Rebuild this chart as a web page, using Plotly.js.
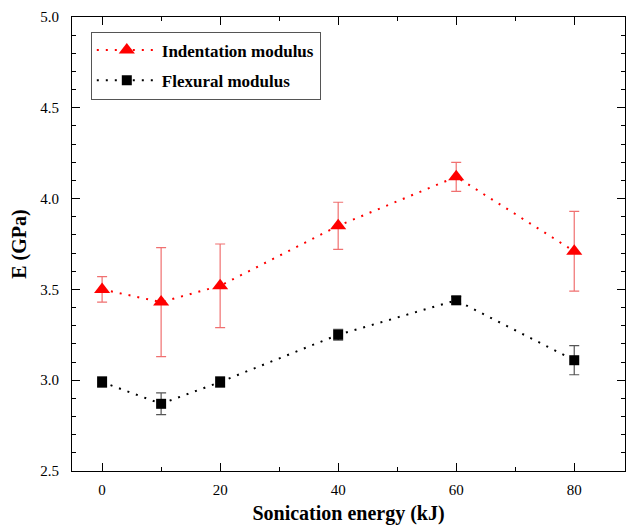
<!DOCTYPE html>
<html><head><meta charset="utf-8">
<script src="https://cdn.plot.ly/plotly-3.0.1.min.js"></script>
<style>html,body{margin:0;padding:0;background:#fff}</style>
</head><body>
<div id="chart" style="width:630px;height:525px"></div>
<script>
const energy = [0, 10, 20, 40, 60, 80];
const indentation = [3.50, 3.43, 3.52, 3.85, 4.12, 3.71];
const indentationErr = [0.07, 0.30, 0.23, 0.13, 0.08, 0.22];
const flexural = [2.99, 2.87, 2.99, 3.25, 3.44, 3.11];
const flexuralErr = [0.03, 0.06, 0.03, 0.03, 0.02, 0.08];
const seriesNames = ['Indentation modulus', 'Flexural modulus'];

const FAM = 'Liberation Serif, Times New Roman, serif';
const traces = [
  {x: energy, y: indentation, name: '<b>' + seriesNames[0] + '</b>', type: 'scatter', mode: 'lines+markers',
   legendgroup: 'a',
   line: {color: '#ff0000', dash: '2px,7px', width: 2},
   marker: {symbol: 'triangle-up', size: 14, color: '#ff0000'},
   error_y: {type: 'data', array: indentationErr, visible: true, color: '#f07070', thickness: 1.2, width: 5}},
  {x: energy, y: flexural, name: '<b>' + seriesNames[1] + '</b>', type: 'scatter', mode: 'lines+markers',
   legendgroup: 'b',
   line: {color: '#000000', dash: '2px,7px', width: 2},
   marker: {symbol: 'square', size: 10, color: '#000000'},
   error_y: {type: 'data', array: flexuralErr, visible: true, color: '#555555', thickness: 1.2, width: 5}}
];

const layout = {
  width: 630, height: 525,
  margin: {l: 72, r: 5, t: 17, b: 54},
  paper_bgcolor: '#fff', plot_bgcolor: '#fff',
  font: {family: FAM, color: '#000'},
  showlegend: true,
  legend: {x: 0.034, y: 0.968, xanchor: 'left', yanchor: 'top', bordercolor: '#555', borderwidth: 1,
    font: {family: FAM, size: 17, color: '#000'}, bgcolor: '#fff', tracegroupgap: 5,
    traceorder: 'grouped', itemwidth: 60},
  xaxis: {range: [-5.1, 88.6], tickvals: [0, 20, 40, 60, 80], ticks: 'inside', ticklen: 8, tickcolor: '#000',
    showline: true, linecolor: '#000', linewidth: 1, mirror: 'ticks', showgrid: false, zeroline: false,
    minor: {tickvals: [10, 30, 50, 70], ticks: 'inside', ticklen: 4, tickcolor: '#000'},
    tickfont: {family: FAM, size: 15}, ticklabelstandoff: 5,
    title: {text: '<b>Sonication energy (kJ)</b>', font: {family: FAM, size: 20}, standoff: 12}},
  yaxis: {range: [2.5, 5.0], dtick: 0.5, tickformat: '.1f', ticks: 'inside', ticklen: 8, tickcolor: '#000',
    showline: true, linecolor: '#000', linewidth: 1, mirror: 'ticks', showgrid: false, zeroline: false,
    minor: {dtick: 0.1, ticks: 'inside', ticklen: 4, tickcolor: '#000'},
    tickfont: {family: FAM, size: 15}, ticklabelstandoff: 9,
    title: {text: '<b>E (GPa)</b>', font: {family: FAM, size: 20}, standoff: 8}}
};
Plotly.newPlot('chart', traces, layout, {displayModeBar: false, staticPlot: true});
</script>
</body></html>
